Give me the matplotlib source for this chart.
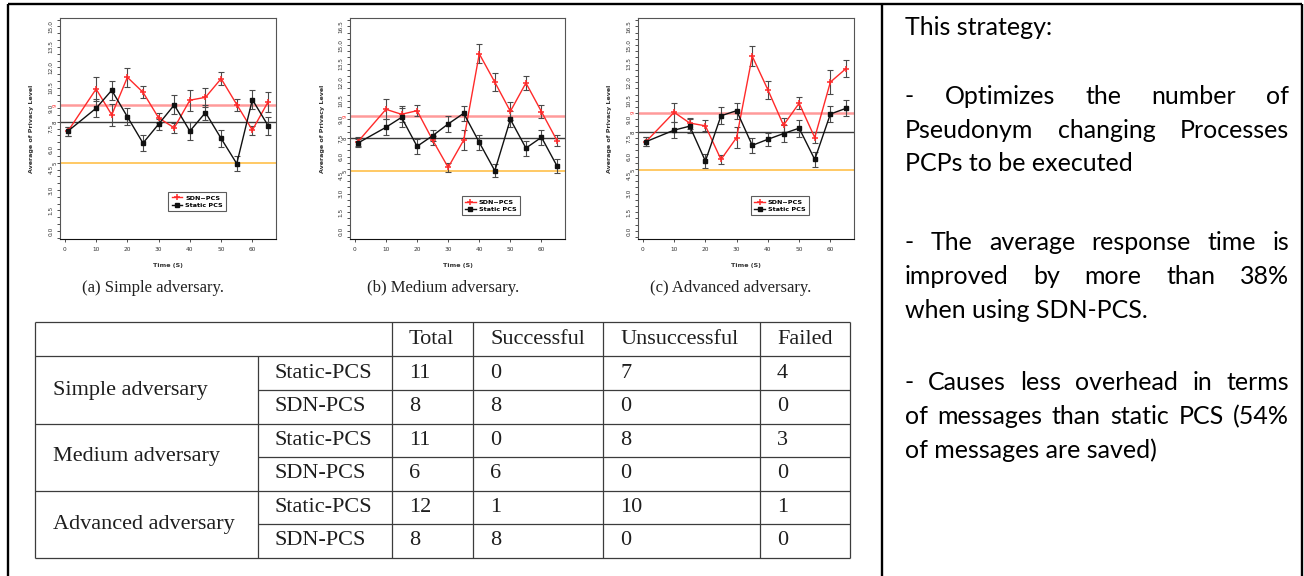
import matplotlib.pyplot as plt
from matplotlib.lines import Line2D
from matplotlib.ticker import MultipleLocator, FormatStrFormatter

W, H = 1304, 576

# Data
time_s = [1, 10, 15, 20, 25, 30, 35, 40, 45, 50, 55, 60, 65]

simple_sdn = [7.32, 10.41, 8.51, 11.27, 10.17, 8.29, 7.56, 9.59, 9.80, 11.17, 9.27, 7.39, 9.46]
simple_sdn_err = [0.33, 0.85, 0.80, 0.70, 0.45, 0.37, 0.35, 0.77, 0.68, 0.46, 0.44, 0.34, 0.73]
simple_static = [7.32, 9.00, 10.32, 8.37, 6.44, 7.83, 9.24, 7.32, 8.68, 6.78, 4.93, 9.63, 7.73]
simple_static_err = [0.33, 0.65, 0.70, 0.62, 0.58, 0.41, 0.70, 0.67, 0.58, 0.60, 0.55, 0.72, 0.66]
simple_levels = [9.24, 7.98, 4.95]

medium_sdn = [7.20, 9.81, 9.41, 9.70, 7.33, 5.12, 7.33, 14.29, 12.00, 9.65, 11.94, 9.62, 7.28]
medium_sdn_err = [0.35, 0.80, 0.63, 0.45, 0.36, 0.34, 0.80, 0.77, 0.75, 0.74, 0.57, 0.50, 0.47]
medium_static = [7.09, 8.36, 9.16, 6.82, 7.68, 8.63, 9.49, 7.14, 4.85, 9.00, 6.68, 7.55, 5.23]
medium_static_err = [0.34, 0.63, 0.74, 0.60, 0.45, 0.65, 0.60, 0.60, 0.54, 0.65, 0.60, 0.60, 0.55]
medium_levels = [9.27, 7.49, 4.80]

advanced_sdn = [7.20, 9.57, 8.70, 8.48, 5.76, 7.53, 14.10, 11.39, 8.53, 10.30, 7.53, 12.01, 13.10]
advanced_sdn_err = [0.35, 0.79, 0.45, 0.45, 0.37, 0.84, 0.82, 0.73, 0.59, 0.50, 0.43, 0.99, 0.67]
advanced_static = [7.20, 8.13, 8.45, 5.63, 9.29, 9.70, 6.90, 7.39, 7.85, 8.29, 5.76, 9.43, 9.89]
advanced_static_err = [0.34, 0.64, 0.54, 0.57, 0.68, 0.64, 0.59, 0.54, 0.68, 0.68, 0.64, 0.65, 0.64]
advanced_levels = [9.54, 7.99, 4.89]

level_labels = ['9', '8', '5']
captions = ['(a) Simple adversary.', '(b) Medium adversary.', '(c) Advanced adversary.']

# Table data
table_columns = ['Total', 'Successful', 'Unsuccessful', 'Failed']
adversaries = ['Simple adversary', 'Medium adversary', 'Advanced adversary']
schemes = ['Static-PCS', 'SDN-PCS']
total = [[11, 8], [11, 6], [12, 8]]
successful = [[0, 8], [0, 6], [1, 8]]
unsuccessful = [[7, 0], [8, 0], [10, 0]]
failed = [[4, 0], [3, 0], [1, 0]]

# Text panel
panel_lines = ['This strategy:',
               '- Optimizes the number of',
               'Pseudonym changing Processes',
               'PCPs to be executed',
               '- The average response time is',
               'improved by more than 38%',
               'when using SDN-PCS.',
               '- Causes less overhead in terms',
               'of messages than static PCS (54%',
               'of messages are saved)']
panel_justify = [False, True, True, False, True, True, False, True, True, False]


fig = plt.figure(figsize=(W / 100, H / 100), dpi=100)

# full-figure overlay in pixel coordinates for border, table and text
ov = fig.add_axes([0, 0, 1, 1])
ov.set_xlim(0, W)
ov.set_ylim(H, 0)
ov.axis('off')


def px_rect(left, top, right, bottom):
    return [left / W, 1 - bottom / H, (right - left) / W, (bottom - top) / H]


def draw_panel(rect, sdn, sdn_err, static, static_err, levels, ytop, legend_center):
    ax = fig.add_axes(rect)
    ax.set_zorder(2)

    level_colors = ['#ff9a9a', '#3a3a3a', '#ffc04a']
    level_widths = [1.8, 1.0, 1.2]
    for lv, lab, c, lw in zip(levels, level_labels, level_colors, level_widths):
        ax.axhline(lv, color=c, lw=lw, zorder=1)
        ax.text(-0.012, lv, lab, transform=ax.get_yaxis_transform(), rotation=90,
                ha='right', va='center', fontsize=3.8,
                color='#ff3030' if c == '#ff9a9a' else '#222222')

    ax.errorbar(time_s, sdn, yerr=sdn_err, fmt='none', ecolor='#4a4a4a',
                elinewidth=0.8, capsize=2.2, capthick=0.8, zorder=2)
    ax.errorbar(time_s, static, yerr=static_err, fmt='none', ecolor='#4a4a4a',
                elinewidth=0.8, capsize=2.2, capthick=0.8, zorder=2)
    ax.plot(time_s, sdn, color='#ff2a2a', lw=1.0, marker='+', ms=4.5, mew=1.1, zorder=3)
    ax.plot(time_s, static, color='#111111', lw=1.0, marker='s', ms=2.8, zorder=3)

    ax.set_xlim(-1.56, 67.56)
    ax.set_ylim(-0.04 * ytop, 1.04 * ytop)
    ax.set_xticks(range(0, 61, 10))
    ax.yaxis.set_major_locator(MultipleLocator(1.5))
    ax.yaxis.set_minor_locator(MultipleLocator(0.5))
    ax.yaxis.set_major_formatter(FormatStrFormatter('%.1f'))
    ax.set_yticks([v * 1.5 for v in range(int(ytop / 1.5) + 1)])
    ax.tick_params(axis='both', which='both', length=2.4, width=0.6, color='#333333',
                   labelsize=4.2, labelcolor='#333333')
    ax.tick_params(axis='x', pad=3.5)
    ax.tick_params(axis='y', pad=2.3, labelrotation=90)
    for lab in ax.get_yticklabels():
        lab.set_va('center')
    for sp in ax.spines.values():
        sp.set_color('#555555')
        sp.set_linewidth(0.8)
    ax.spines['bottom'].set_color('#111111')

    ax.set_xlabel('Time (S)', fontsize=4.6, fontweight='bold', color='#333333', va='center')
    ax.xaxis.set_label_coords(0.5, -0.118)
    ax.set_ylabel('Average of Privacy Level', fontsize=4.6, fontweight='bold',
                  color='#333333', va='center')
    ax.yaxis.set_label_coords(-0.13, 0.5)

    handles = [Line2D([], [], color='#ff2a2a', lw=1.0, marker='+', ms=4.5, mew=1.1),
               Line2D([], [], color='#111111', lw=1.0, marker='s', ms=2.8)]
    leg = ax.legend(handles, ['SDN\u2212PCS', 'Static PCS'], loc='center',
                    bbox_to_anchor=legend_center, frameon=True,
                    fancybox=False, edgecolor='#333333', handlelength=1.6,
                    borderpad=0.55, labelspacing=0.25, handletextpad=0.5,
                    borderaxespad=0, prop={'weight': 'bold', 'size': 4.6})
    leg.get_frame().set_linewidth(0.8)
    return ax


draw_panel(px_rect(60, 18.3, 276, 239), simple_sdn, simple_sdn_err, simple_static,
           simple_static_err, simple_levels, 15.0, (0.636, 0.17))
draw_panel(px_rect(350, 18.3, 565, 239), medium_sdn, medium_sdn_err, medium_static,
           medium_static_err, medium_levels, 16.5, (0.655, 0.151))
draw_panel(px_rect(638, 18.3, 854, 239), advanced_sdn, advanced_sdn_err, advanced_static,
           advanced_static_err, advanced_levels, 16.5, (0.657, 0.151))

for cap, cx in zip(captions, [152.5, 443, 731]):
    ov.text(cx, 292, cap, ha='center', va='baseline', fontsize=12,
            family='Liberation Serif', color='#222222')

# Outer border of the slide cell
bk = dict(color='black', lw=1.7, solid_capstyle='butt')
ov.plot([8, 8], [3.5, H], **bk)
ov.plot([8, 1302], [3.5, 3.5], **bk)
ov.plot([881.5, 881.5], [3.5, H], **bk)
ov.plot([1301.5, 1301.5], [3.5, H], **bk)

# Table
col_x = [35, 257.7, 391.7, 473, 603.3, 760, 850]
row_y = [322.3, 356, 390, 423.5, 457, 490.5, 524, 557.5]
tl = dict(color='#3c3c3c', lw=0.9, solid_capstyle='butt')
for i, y in enumerate(row_y):
    x0 = col_x[1] if i in (2, 4, 6) else col_x[0]
    ov.plot([x0, col_x[-1]], [y, y], **tl)
for j, x in enumerate(col_x):
    y0 = row_y[1] if j == 1 else row_y[0]
    ov.plot([x, x], [y0, row_y[-1]], **tl)

tf = dict(fontsize=16, family='Liberation Serif', color='#1e1e1e', va='center')
for j, name in enumerate(table_columns):
    ov.text(col_x[j + 2] + 17, (row_y[0] + row_y[1]) / 2, name, **tf)
for g, adv in enumerate(adversaries):
    r0 = 1 + 2 * g
    ov.text(col_x[0] + 18, row_y[r0 + 1], adv, **tf)
    for s, scheme in enumerate(schemes):
        yc = (row_y[r0 + s] + row_y[r0 + s + 1]) / 2
        ov.text(col_x[1] + 17, yc, scheme, **tf)
        vals = [total[g][s], successful[g][s], unsuccessful[g][s], failed[g][s]]
        for j, v in enumerate(vals):
            ov.text(col_x[j + 2] + 17, yc, str(v), **tf)

# Justified text panel
renderer = fig.canvas.get_renderer()
pf = dict(fontsize=18, family='Lato', color='black', va='baseline')
text_left, text_right = 905, 1289
baselines = [35, 104, 138, 171, 250, 284, 318, 390, 424, 458]
for line, by, just in zip(panel_lines, baselines, panel_justify):
    if not just:
        ov.text(text_left, by, line, **pf)
        continue
    words = line.split(' ')
    arts = [ov.text(0, by, w, **pf) for w in words]
    widths = [a.get_window_extent(renderer).width for a in arts]
    gap = (text_right - text_left - sum(widths)) / (len(words) - 1)
    x = text_left
    for a, w in zip(arts, widths):
        a.set_x(x)
        x += w + gap

fig.savefig('out.png', dpi=100)
